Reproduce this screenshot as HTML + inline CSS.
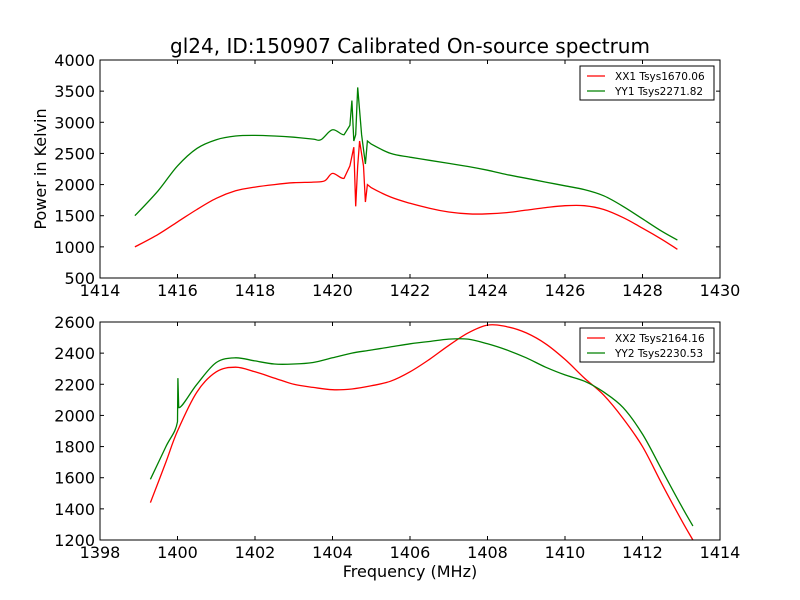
<!DOCTYPE html>
<html><head><meta charset="utf-8"><style>body{margin:0;background:#fff}svg{display:block;font-family:"DejaVu Sans","Liberation Sans",sans-serif}</style></head>
<body>
<svg id="c" width="800" height="600"></svg>
<script>
const topXX_f=[1414.9,1415.5,1416,1416.5,1417,1417.5,1418,1418.5,1419,1419.5,1419.8,1420,1420.3,1420.45,1420.55,1420.6,1420.65,1420.7,1420.8,1420.85,1420.9,1421,1421.5,1422,1422.5,1423,1423.5,1424,1424.5,1425,1425.5,1426,1426.5,1427,1427.5,1428,1428.5,1428.9];
const topXX_v=[1000,1200,1400,1600,1780,1900,1960,2000,2030,2040,2060,2180,2100,2300,2600,1650,2300,2700,2300,1720,2000,1950,1800,1700,1620,1560,1530,1530,1550,1590,1630,1660,1660,1600,1470,1300,1120,960];
const topYY_f=[1414.9,1415.5,1416,1416.5,1417,1417.5,1418,1418.5,1419,1419.5,1419.7,1420,1420.3,1420.45,1420.5,1420.55,1420.6,1420.65,1420.75,1420.85,1420.9,1421,1421.5,1422,1422.5,1423,1423.5,1424,1424.5,1425,1425.5,1426,1426.5,1427,1427.5,1428,1428.5,1428.9];
const topYY_v=[1500,1900,2300,2580,2720,2780,2790,2780,2760,2730,2720,2880,2800,2950,3350,2700,2800,3560,2800,2330,2700,2650,2500,2440,2390,2340,2290,2230,2160,2100,2040,1980,1920,1820,1650,1450,1250,1110];
const botXX_f=[1399.3,1399.7,1400,1400.5,1401,1401.5,1402,1402.5,1403,1403.5,1404,1404.5,1405,1405.5,1406,1406.5,1407,1407.5,1408,1408.5,1409,1409.5,1410,1410.5,1411,1411.5,1412,1412.5,1413,1413.3];
const botXX_v=[1440,1700,1900,2150,2280,2310,2280,2240,2200,2180,2165,2170,2190,2220,2280,2360,2450,2530,2580,2570,2530,2460,2360,2240,2130,1980,1800,1560,1330,1200];
const botYY_f=[1399.3,1399.7,1400,1400.01,1400.03,1400.5,1401,1401.5,1402,1402.5,1403,1403.5,1404,1404.5,1405,1405.5,1406,1406.5,1407,1407.5,1408,1408.5,1409,1409.5,1410,1410.5,1411,1411.5,1412,1412.5,1413,1413.3];
const botYY_v=[1590,1800,1960,2240,2050,2200,2340,2370,2350,2330,2330,2340,2370,2400,2420,2440,2460,2475,2490,2490,2460,2420,2370,2310,2260,2220,2150,2050,1880,1650,1420,1290];
const topXTicks=[1414,1416,1418,1420,1422,1424,1426,1428,1430];
const topYTicks=[500,1000,1500,2000,2500,3000,3500,4000];
const botXTicks=[1398,1400,1402,1404,1406,1408,1410,1412,1414];
const botYTicks=[1200,1400,1600,1800,2000,2200,2400,2600];
const topLegend=["XX1 Tsys1670.06","YY1 Tsys2271.82"];
const botLegend=["XX2 Tsys2164.16","YY2 Tsys2230.53"];
const NS="http://www.w3.org/2000/svg",svg=document.getElementById('c');
function mk(t,a,p){const e=document.createElementNS(NS,t);for(const k in a)e.setAttribute(k,a[k]);(p||svg).appendChild(e);return e;}
function smooth(P){let d='M'+P[0][0].toFixed(1)+','+P[0][1].toFixed(1);
 for(let i=0;i<P.length-1;i++){const p0=P[i-1]||P[i],p1=P[i],p2=P[i+1],p3=P[i+2]||p2;
  const dx=p2[0]-p1[0];
  if(dx<6){d+=' L'+p2[0].toFixed(1)+','+p2[1].toFixed(1);continue;}
  const c1=[p1[0]+(p2[0]-p0[0])/6,p1[1]+(p2[1]-p0[1])/6],c2=[p2[0]-(p3[0]-p1[0])/6,p2[1]-(p3[1]-p1[1])/6];
  if(p2[0]-p0[0]<12){c1[0]=p1[0]+dx/3;c1[1]=p1[1]+(p2[1]-p1[1])/3;}
  if(p3[0]-p1[0]<12){c2[0]=p2[0]-dx/3;c2[1]=p2[1]-(p2[1]-p1[1])/3;}
  d+=' C'+c1.map(v=>v.toFixed(1))+' '+c2.map(v=>v.toFixed(1))+' '+p2.map(v=>v.toFixed(1));}
 return d;}
function panel(name,y0,y1,x0,x1,yd0,yd1,xt,yt,series,leg){
 const L=100,R=720;
 const g=mk('g',{});
 const sx=v=>L+(v-x0)/(x1-x0)*(R-L), sy=v=>y1-(v-yd0)/(yd1-yd0)*(y1-y0);
 const cp=mk('clipPath',{id:name+'-clip'},g);mk('rect',{x:L,y:y0,width:R-L,height:y1-y0},cp);
 series.forEach(s=>{const P=s.f.map((f,i)=>[sx(f),sy(s.v[i])]);
  const p=mk('path',{d:smooth(P),fill:'none',stroke:s.c,'stroke-width':1.3,'clip-path':'url(#'+name+'-clip)'},g);});
 mk('rect',{x:L,y:y0,width:R-L,height:y1-y0,fill:'none',stroke:'#000'},g);
 xt.forEach(t=>{const x=sx(t);mk('line',{x1:x,x2:x,y1:y1,y2:y1-4,stroke:'#000'},g);mk('line',{x1:x,x2:x,y1:y0,y2:y0+4,stroke:'#000'},g);
  const tx=mk('text',{x:x,y:y1+18,'text-anchor':'middle','font-size':16},g);tx.textContent=t;});
 yt.forEach(t=>{const y=sy(t);mk('line',{x1:L,x2:L+4,y1:y,y2:y,stroke:'#000'},g);mk('line',{x1:R,x2:R-4,y1:y,y2:y,stroke:'#000'},g);
  const tx=mk('text',{x:L-5,y:y+6,'text-anchor':'end','font-size':16},g);tx.textContent=t;});
 const lg=mk('g',{},g);
 mk('rect',{x:580,y:y0+6,width:134,height:34,fill:'#fff',stroke:'#000'},lg);
 leg.forEach((t,i)=>{const yy=y0+16+i*15;mk('line',{x1:587,x2:605,y1:yy,y2:yy,stroke:series[i].c,'stroke-width':1.3},lg);
  const tx=mk('text',{x:615,y:yy+4,'font-size':10.5},lg);tx.textContent=t;});
}
panel('top-panel',60,278,1414,1430,500,4000,topXTicks,topYTicks,[{f:topXX_f,v:topXX_v,c:'#ff0000',n:'xx1-line'},{f:topYY_f,v:topYY_v,c:'#008000',n:'yy1-line'}],topLegend);
panel('bottom-panel',322,540,1398,1414,1200,2600,botXTicks,botYTicks,[{f:botXX_f,v:botXX_v,c:'#ff0000',n:'xx2-line'},{f:botYY_f,v:botYY_v,c:'#008000',n:'yy2-line'}],botLegend);
let t=mk('text',{x:410,y:53,'text-anchor':'middle','font-size':20});t.textContent='gl24, ID:150907 Calibrated On-source spectrum';


t=mk('text',{x:410,y:577,'text-anchor':'middle','font-size':16});t.textContent='Frequency (MHz)';


t=mk('text',{x:46,y:169,'text-anchor':'middle','font-size':16,transform:'rotate(-90 46 169)'});t.textContent='Power in Kelvin';


</script>
</body></html>
